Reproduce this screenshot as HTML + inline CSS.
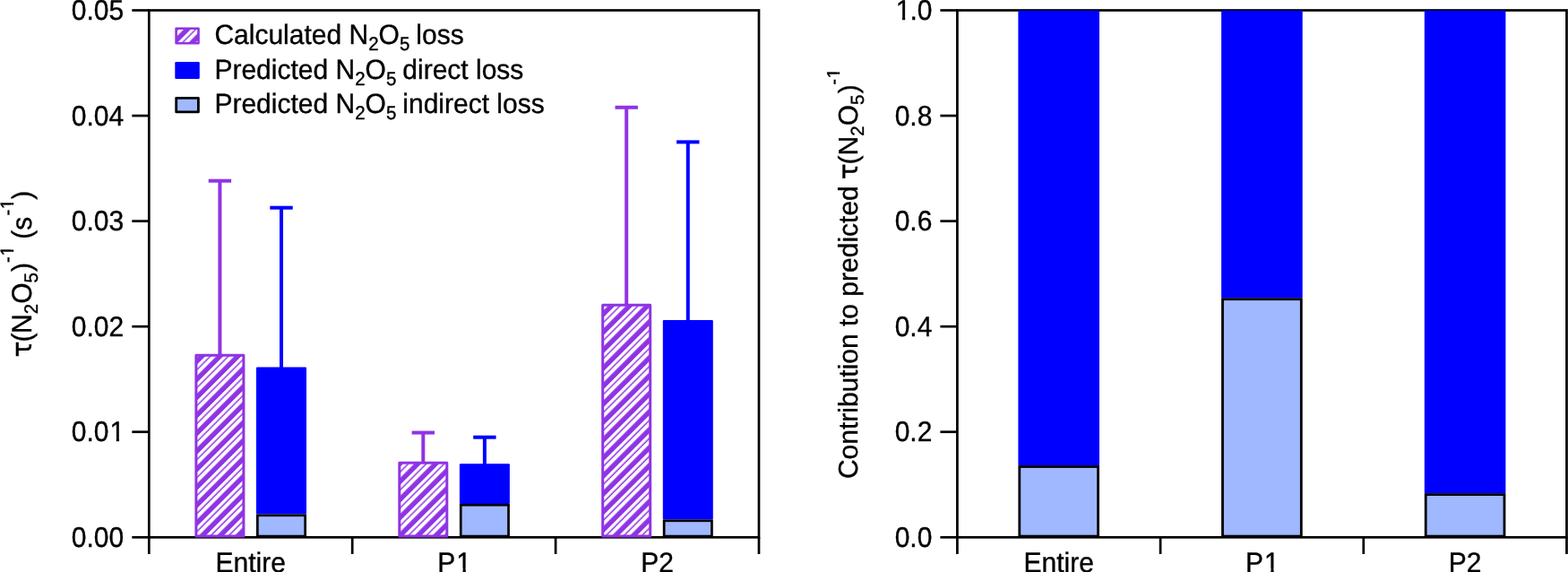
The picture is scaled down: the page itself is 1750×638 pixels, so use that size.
<!DOCTYPE html>
<html><head><meta charset="utf-8"><title>N2O5 loss</title>
<style>
html,body{margin:0;padding:0;background:#fff;width:1750px;height:638px;overflow:hidden}
svg{display:block}
text{font-family:"Liberation Sans",Arial,Helvetica,sans-serif;fill:#000;stroke:#000;stroke-width:0.35px;text-rendering:geometricPrecision}
.tau{font-family:"DejaVu Sans","Liberation Sans",sans-serif}
</style></head><body>
<svg width="1750" height="638" viewBox="0 0 1750 638">
<defs>
<pattern id="hatch" patternUnits="userSpaceOnUse" width="10" height="14.177" patternTransform="rotate(-45) translate(0,3.51)">
<rect x="0" y="0" width="10" height="14.177" fill="#8f34e4"/>
<rect x="0" y="0" width="10" height="3.3" fill="#fff"/>
<rect x="0" y="4.8" width="10" height="3.9" fill="#fff"/>
</pattern>
</defs>
<rect width="1750" height="638" fill="#fff"/>
<rect x="166.3" y="11.5" width="680.70" height="587.80" fill="none" stroke="#000" stroke-width="2.7"/>
<g stroke="#000" stroke-width="2.7"><line x1="147.30" y1="11.50" x2="166.30" y2="11.50"/><line x1="147.30" y1="129.06" x2="166.30" y2="129.06"/><line x1="147.30" y1="246.62" x2="166.30" y2="246.62"/><line x1="147.30" y1="364.18" x2="166.30" y2="364.18"/><line x1="147.30" y1="481.74" x2="166.30" y2="481.74"/><line x1="147.30" y1="599.30" x2="166.30" y2="599.30"/><line x1="166.30" y1="599.30" x2="166.30" y2="618"/><line x1="393.20" y1="599.30" x2="393.20" y2="618"/><line x1="620.10" y1="599.30" x2="620.10" y2="618"/><line x1="847.00" y1="599.30" x2="847.00" y2="618"/></g>
<g transform="translate(138.20,22.25) scale(1,1.05)"><text id="t0" font-size="30" text-anchor="end">0.05</text></g>
<g transform="translate(138.20,139.81) scale(1,1.05)"><text id="t1" font-size="30" text-anchor="end">0.04</text></g>
<g transform="translate(138.20,257.37) scale(1,1.05)"><text id="t2" font-size="30" text-anchor="end">0.03</text></g>
<g transform="translate(138.20,374.93) scale(1,1.05)"><text id="t3" font-size="30" text-anchor="end">0.02</text></g>
<g transform="translate(79.81,492.49) scale(1,1.05)"><text id="t4" font-size="30">0.0<tspan dx="1.0">1</tspan></text><rect x="43.40" y="-3.54" width="6.56" height="4.74" fill="#fff"/><rect x="53.21" y="-3.54" width="6.32" height="4.74" fill="#fff"/></g>
<g transform="translate(138.20,610.05) scale(1,1.05)"><text id="t5" font-size="30" text-anchor="end">0.00</text></g>
<g transform="translate(279.75,637.80) scale(1,1.04)"><text id="t6" font-size="30" text-anchor="middle">Entire</text></g>
<g transform="translate(488.30,637.80) scale(1,1.04)"><text id="t7" font-size="30">P<tspan dx="1.0">1</tspan></text><rect x="21.70" y="-3.54" width="6.56" height="4.74" fill="#fff"/><rect x="31.51" y="-3.54" width="6.32" height="4.74" fill="#fff"/></g>
<g transform="translate(733.55,637.80) scale(1,1.04)"><text id="t8" font-size="30" text-anchor="middle">P2</text></g>
<rect x="218.90" y="396.20" width="53.00" height="201.90" fill="url(#hatch)" stroke="#8f34e4" stroke-width="3" stroke-linejoin="round"/>
<rect x="286.00" y="409.50" width="56" height="164.00" rx="1" fill="#0000ff"/>
<rect x="287.35" y="574.80" width="53.30" height="23.30" fill="#a0b8ff" stroke="#000" stroke-width="2.7"/>
<g stroke="#8f34e4" stroke-width="4"><line x1="245.40" y1="201.70" x2="245.40" y2="395.20"/><line x1="232.70" y1="201.70" x2="258.10" y2="201.70"/></g>
<g stroke="#0000ff" stroke-width="4"><line x1="314.00" y1="231.70" x2="314.00" y2="410.50"/><line x1="301.30" y1="231.70" x2="326.70" y2="231.70"/></g>
<rect x="445.80" y="516.30" width="53.00" height="81.80" fill="url(#hatch)" stroke="#8f34e4" stroke-width="3" stroke-linejoin="round"/>
<rect x="512.90" y="517.30" width="56" height="44.65" rx="1" fill="#0000ff"/>
<rect x="514.25" y="563.25" width="53.30" height="34.85" fill="#a0b8ff" stroke="#000" stroke-width="2.7"/>
<g stroke="#8f34e4" stroke-width="4"><line x1="472.30" y1="482.60" x2="472.30" y2="515.30"/><line x1="459.60" y1="482.60" x2="485.00" y2="482.60"/></g>
<g stroke="#0000ff" stroke-width="4"><line x1="540.90" y1="487.70" x2="540.90" y2="518.30"/><line x1="528.20" y1="487.70" x2="553.60" y2="487.70"/></g>
<rect x="672.70" y="340.30" width="53.00" height="257.80" fill="url(#hatch)" stroke="#8f34e4" stroke-width="3" stroke-linejoin="round"/>
<rect x="739.80" y="357.00" width="56" height="222.50" rx="1" fill="#0000ff"/>
<rect x="741.15" y="580.80" width="53.30" height="17.30" fill="#a0b8ff" stroke="#000" stroke-width="2.7"/>
<g stroke="#8f34e4" stroke-width="4"><line x1="699.20" y1="119.80" x2="699.20" y2="339.30"/><line x1="686.50" y1="119.80" x2="711.90" y2="119.80"/></g>
<g stroke="#0000ff" stroke-width="4"><line x1="767.80" y1="158.40" x2="767.80" y2="358.00"/><line x1="755.10" y1="158.40" x2="780.50" y2="158.40"/></g>
<g transform="translate(35.00,398.40) rotate(-90) scale(1,1.04)"><text id="t9" font-size="30"><tspan class="tau">τ</tspan><tspan dx="-1.1">(</tspan><tspan dx="-0.5">N</tspan><tspan font-size="20.5" dy="7">2</tspan><tspan dy="-7">O</tspan><tspan font-size="20.5" dy="7">5</tspan><tspan dy="-7" dx="1.2">)</tspan><tspan font-size="20" dy="-19.3" dx="0">-<tspan dx="0.65">1</tspan></tspan><tspan dy="19.3" dx="-0.65"> (s</tspan><tspan font-size="20" dy="-19.3" dx="1.2">-<tspan dx="0.65">1</tspan></tspan><tspan dy="19.3" dx="-0.65">)</tspan></text><rect x="112.74" y="-22.09" width="4.81" height="3.99" fill="#fff"/><rect x="119.91" y="-22.09" width="4.65" height="3.99" fill="#fff"/><rect x="165.06" y="-22.09" width="4.81" height="3.99" fill="#fff"/><rect x="172.23" y="-22.09" width="4.65" height="3.99" fill="#fff"/></g>
<rect x="196.6" y="31.8" width="24.9" height="16.5" fill="url(#hatch)" stroke="#8f34e4" stroke-width="2.6" stroke-linejoin="round"/>
<rect x="195.3" y="68.9" width="27.5" height="19.1" rx="1.3" fill="#0000ff"/>
<rect x="196.7" y="109.4" width="24.7" height="15.5" fill="#a0b8ff" stroke="#000" stroke-width="2.8" stroke-linejoin="round"/>
<g transform="translate(239.40,49.00) scale(1,1.03)"><text id="t10" font-size="30">Calculated <tspan>N</tspan><tspan font-size="20.5" dy="7">2</tspan><tspan dy="-7">O</tspan><tspan font-size="20.5" dy="7">5</tspan><tspan dy="-7" dx="-1.3"> loss</tspan></text></g>
<g transform="translate(239.40,87.50) scale(1,1.03)"><text id="t11" font-size="30">Predicted <tspan>N</tspan><tspan font-size="20.5" dy="7">2</tspan><tspan dy="-7">O</tspan><tspan font-size="20.5" dy="7">5</tspan><tspan dy="-7" dx="-1.3"> direct loss</tspan></text></g>
<g transform="translate(239.40,126.00) scale(1,1.03)"><text id="t12" font-size="30">Predicted <tspan>N</tspan><tspan font-size="20.5" dy="7">2</tspan><tspan dy="-7">O</tspan><tspan font-size="20.5" dy="7">5</tspan><tspan dy="-7" dx="-1.3"> indirect loss</tspan></text></g>
<rect x="1068.4" y="11.5" width="680.10" height="587.80" fill="none" stroke="#000" stroke-width="2.7"/>
<g stroke="#000" stroke-width="2.7"><line x1="1049.40" y1="11.50" x2="1068.40" y2="11.50"/><line x1="1049.40" y1="129.06" x2="1068.40" y2="129.06"/><line x1="1049.40" y1="246.62" x2="1068.40" y2="246.62"/><line x1="1049.40" y1="364.18" x2="1068.40" y2="364.18"/><line x1="1049.40" y1="481.74" x2="1068.40" y2="481.74"/><line x1="1049.40" y1="599.30" x2="1068.40" y2="599.30"/><line x1="1068.40" y1="599.30" x2="1068.40" y2="618"/><line x1="1295.10" y1="599.30" x2="1295.10" y2="618"/><line x1="1521.80" y1="599.30" x2="1521.80" y2="618"/><line x1="1748.50" y1="599.30" x2="1748.50" y2="618"/></g>
<g transform="translate(998.70,22.25) scale(1,1.05)"><text id="t13" font-size="30"><tspan dx="1.0">1</tspan><tspan dx="-1.0">.0</tspan></text><rect x="1.69" y="-3.54" width="6.56" height="4.74" fill="#fff"/><rect x="11.50" y="-3.54" width="6.32" height="4.74" fill="#fff"/></g>
<g transform="translate(1040.40,139.81) scale(1,1.05)"><text id="t14" font-size="30" text-anchor="end">0.8</text></g>
<g transform="translate(1040.40,257.37) scale(1,1.05)"><text id="t15" font-size="30" text-anchor="end">0.6</text></g>
<g transform="translate(1040.40,374.93) scale(1,1.05)"><text id="t16" font-size="30" text-anchor="end">0.4</text></g>
<g transform="translate(1040.40,492.49) scale(1,1.05)"><text id="t17" font-size="30" text-anchor="end">0.2</text></g>
<g transform="translate(1040.40,610.05) scale(1,1.05)"><text id="t18" font-size="30" text-anchor="end">0.0</text></g>
<g transform="translate(1181.75,637.80) scale(1,1.04)"><text id="t19" font-size="30" text-anchor="middle">Entire</text></g>
<g transform="translate(1390.10,637.80) scale(1,1.04)"><text id="t20" font-size="30">P<tspan dx="1.0">1</tspan></text><rect x="21.70" y="-3.54" width="6.56" height="4.74" fill="#fff"/><rect x="31.51" y="-3.54" width="6.32" height="4.74" fill="#fff"/></g>
<g transform="translate(1635.15,637.80) scale(1,1.04)"><text id="t21" font-size="30" text-anchor="middle">P2</text></g>
<rect x="1136.40" y="11.7" width="90.6" height="507.60" rx="1" fill="#0000ff"/>
<rect x="1137.80" y="520.50" width="87.80" height="77.60" fill="#a0b8ff" stroke="#000" stroke-width="2.8"/>
<rect x="1363.10" y="11.7" width="90.6" height="320.80" rx="1" fill="#0000ff"/>
<rect x="1364.50" y="333.70" width="87.80" height="264.40" fill="#a0b8ff" stroke="#000" stroke-width="2.8"/>
<rect x="1589.80" y="11.7" width="90.6" height="538.70" rx="1" fill="#0000ff"/>
<rect x="1591.20" y="551.60" width="87.80" height="46.50" fill="#a0b8ff" stroke="#000" stroke-width="2.8"/>
<g transform="translate(957.20,534.10) rotate(-90) scale(1,1.01)"><text id="t22" font-size="30">Contribution to predicted <tspan class="tau" dx="-1.3">τ</tspan><tspan dx="-1.3">(</tspan><tspan>N</tspan><tspan font-size="20.5" dy="7">2</tspan><tspan dy="-7">O</tspan><tspan font-size="20.5" dy="7">5</tspan><tspan dy="-7" dx="1.3">)</tspan><tspan font-size="20" dy="-20" dx="-0.5">-<tspan dx="0.65">1</tspan></tspan></text><rect x="446.54" y="-22.79" width="4.81" height="3.99" fill="#fff"/><rect x="453.71" y="-22.79" width="4.65" height="3.99" fill="#fff"/></g>
</svg>
</body></html>
